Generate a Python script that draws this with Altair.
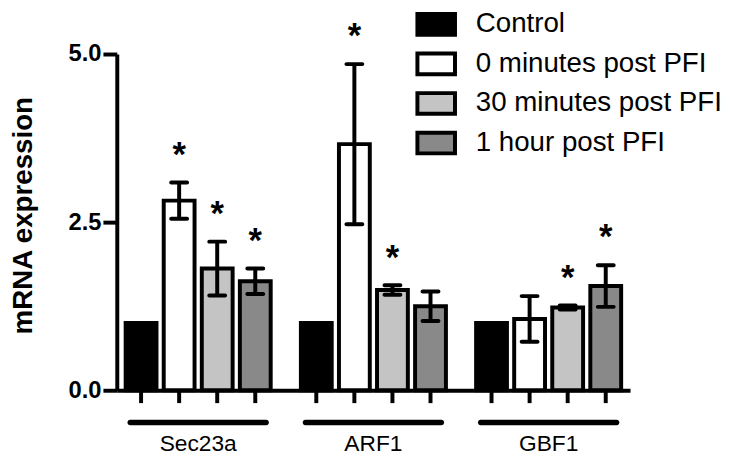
import altair as alt
import pandas as pd

FONT = "Liberation Sans"

groups = ["Sec23a", "ARF1", "GBF1"]
conditions = ["Control", "0 minutes post PFI", "30 minutes post PFI", "1 hour post PFI"]
fills = ["#000000", "#ffffff", "#c4c4c4", "#898989"]

sec23a_mean = [1.0, 2.82, 1.81, 1.62]
arf1_mean = [1.0, 3.66, 1.49, 1.25]
gbf1_mean = [1.0, 1.06, 1.23, 1.55]

sec23a_err = [0.0, 0.27, 0.40, 0.19]
arf1_err = [0.0, 1.19, 0.07, 0.22]
gbf1_err = [0.0, 0.34, 0.03, 0.31]

sec23a_sig = [False, True, True, True]
arf1_sig = [False, True, True, False]
gbf1_sig = [False, False, True, True]

y_ticks = [0.0, 2.5, 5.0]

rows = []
for g, means, errs, sigs in [
    ("Sec23a", sec23a_mean, sec23a_err, sec23a_sig),
    ("ARF1", arf1_mean, arf1_err, arf1_sig),
    ("GBF1", gbf1_mean, gbf1_err, gbf1_sig),
]:
    for c, m, e, s in zip(conditions, means, errs, sigs):
        rows.append({"group": g, "condition": c, "mean": m, "err": e, "sig": s})
df = pd.DataFrame(rows)

x_enc = alt.X(
    "group:N",
    sort=groups,
    title=None,
    scale=alt.Scale(domain=groups, paddingInner=0.131, paddingOuter=0.03),
    axis=alt.Axis(
        domainWidth=4, domainColor="black", ticks=False,
        labelFontSize=23, labelFont=FONT, labelColor="black",
        labelPadding=43, labelAngle=0,
    ),
)
xo_enc = alt.XOffset(
    "condition:N",
    sort=conditions,
    scale=alt.Scale(domain=conditions, paddingInner=0.19, paddingOuter=0.095),
)
y_scale = alt.Scale(domain=[0, 5], nice=False, zero=True)

base = alt.Chart(df).encode(x=x_enc, xOffset=xo_enc).transform_calculate(
    lo="datum.mean - datum.err", hi="datum.mean + datum.err"
)

bars = base.mark_bar(stroke="black", strokeWidth=4).encode(
    y=alt.Y(
        "mean:Q",
        scale=y_scale,
        axis=alt.Axis(
            values=y_ticks, format=".1f", title="mRNA expression",
            titleFontSize=28, titleFontWeight="bold", titleFont=FONT, titleColor="black",
            titleX=-94, titleY=163, titleBaseline="middle", titleAlign="center", titleAngle=-90,
            labelFontSize=24, labelFontWeight="bold", labelColor="black", labelFont=FONT,
            labelPadding=2, tickSize=14, tickWidth=4, tickColor="black",
            domainWidth=4, domainColor="black", grid=False,
        ),
    ),
    fill=alt.Fill(
        "condition:N",
        sort=conditions,
        scale=alt.Scale(domain=conditions, range=fills),
        legend=alt.Legend(
            title=None, orient="none", legendX=302, legendY=-51,
            symbolType="M-1,-0.55H1V0.55H-1Z", symbolSize=1444,
            symbolStrokeColor="black", symbolStrokeWidth=4, symbolOpacity=1,
            labelFontSize=28, labelFont=FONT, labelColor="black",
            labelOffset=19, rowPadding=-1, padding=0, labelLimit=400,
        ),
    ),
)

bar_ticks = base.mark_tick(
    orient="vertical", size=13, thickness=4, yOffset=6.5, color="black", opacity=1
).encode(y=alt.datum(0))

err_base = base.transform_filter("datum.err > 0")
err_rule = err_base.mark_rule(strokeWidth=4, color="black").encode(
    y=alt.Y("lo:Q"), y2="hi:Q"
)
cap_hi = err_base.mark_tick(
    orient="horizontal", size=20, thickness=4, color="black", opacity=1, cornerRadius=2
).encode(y="hi:Q")
cap_lo = err_base.mark_tick(
    orient="horizontal", size=20, thickness=4, color="black", opacity=1, cornerRadius=2
).encode(y="lo:Q")

stars = base.transform_filter("datum.sig").mark_text(
    text="*", fontSize=35, fontWeight="bold", font=FONT, dy=-28, baseline="middle", color="black"
).encode(y="hi:Q")

underline = alt.Chart(pd.DataFrame({"group": groups})).mark_bar(
    width=143, cornerRadius=3, color="black"
).encode(
    x=alt.X("group:N", sort=groups),
    y=alt.datum(-0.44),
    y2=alt.datum(-0.52),
)

chart = alt.layer(bars, bar_ticks, err_rule, cap_hi, cap_lo, stars, underline).properties(
    width=519,
    height=340,
    autosize=alt.AutoSizeParams(type="none"),
    padding={"left": 110, "top": 44, "right": 93, "bottom": 69},
    background="white",
).configure_view(stroke=None)

chart.save("out.html", embed_options={"renderer": "svg", "actions": False})
